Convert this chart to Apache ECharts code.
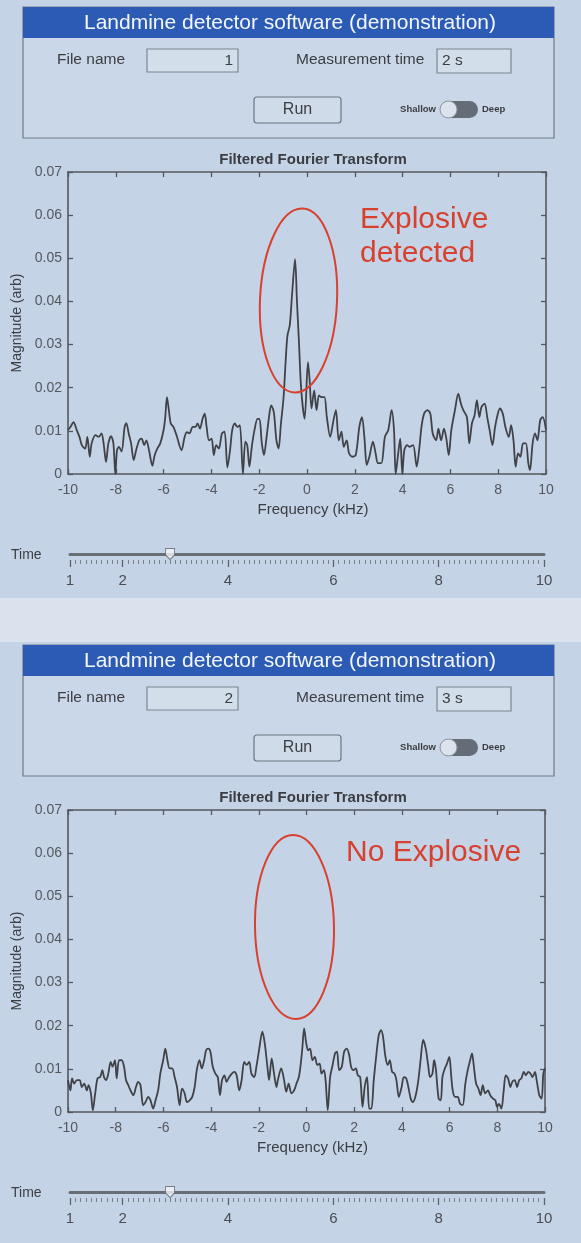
<!DOCTYPE html>
<html>
<head>
<meta charset="utf-8">
<script src="https://cdn.jsdelivr.net/npm/echarts@6/dist/echarts.min.js"></script>
<style>
html,body{margin:0;padding:0;background:#c4d3e6;}
#c{width:581px;height:1243px;}
</style>
</head>
<body>
<div id="c"></div>
<script>
// ---------------- data ----------------
const FREQ_MIN = -10, FREQ_MAX = 10, FREQ_STEP = 2;
const MAG_MIN = 0, MAG_MAX = 0.07, MAG_STEP = 0.01;

// Screen 1 : explosive detected
const freq1 = [
 -10.00,-9.90,-9.77,-9.63,-9.52,-9.42,-9.28,-9.19,-9.09,-9.01,
 -8.85,-8.71,-8.60,-8.51,-8.41,-8.31,-8.20,-8.10,-8.02,-7.95,
 -7.87,-7.76,-7.63,-7.56,-7.46,-7.36,-7.25,-7.15,-7.02,-6.92,
 -6.81,-6.72,-6.61,-6.47,-6.38,-6.27,-6.14,-6.00,-5.93,-5.86,
 -5.78,-5.70,-5.59,-5.46,-5.25,-5.12,-5.02,-4.92,-4.78,-4.67,
 -4.58,-4.48,-4.37,-4.28,-4.20,-4.10,-3.99,-3.90,-3.80,-3.69,
 -3.56,-3.45,-3.33,-3.22,-3.13,-3.02,-2.91,-2.81,-2.68,-2.58,
 -2.50,-2.41,-2.31,-2.20,-2.07,-1.99,-1.89,-1.80,-1.69,-1.59,
 -1.50,-1.39,-1.28,-1.19,-1.09,-0.98,-0.90,-0.82,-0.72,-0.62,
 -0.50,-0.42,-0.34,-0.24,-0.10,0.04,0.11,0.19,0.30,0.40,
 0.50,0.61,0.73,0.83,0.97,1.11,1.21,1.33,1.44,1.54,
 1.66,1.76,1.90,2.04,2.19,2.30,2.40,2.50,2.61,2.76,
 2.87,2.97,3.11,3.26,3.40,3.54,3.64,3.71,3.80,3.90,
 3.99,4.07,4.19,4.30,4.44,4.59,4.69,4.79,4.90,5.04,
 5.16,5.26,5.40,5.50,5.61,5.73,5.83,5.93,6.04,6.19,
 6.33,6.44,6.54,6.69,6.79,6.90,7.01,7.11,7.21,7.30,
 7.43,7.54,7.64,7.76,7.87,7.97,8.07,8.19,8.30,8.44,
 8.54,8.64,8.73,8.83,8.93,9.04,9.16,9.26,9.33,9.44,
 9.54,9.64,9.76,9.86,10.00
];
const mag1 = [
 0.0102,0.0109,0.0120,0.0101,0.0086,0.0067,0.0059,0.0086,0.0040,0.0071,
 0.0090,0.0086,0.0094,0.0071,0.0028,0.0071,0.0088,0.0071,0.0000,0.0055,
 0.0063,0.0052,0.0109,0.0118,0.0094,0.0071,0.0032,0.0055,0.0078,0.0082,
 0.0067,0.0078,0.0055,0.0019,0.0042,0.0058,0.0071,0.0102,0.0132,0.0178,
 0.0148,0.0117,0.0109,0.0090,0.0055,0.0086,0.0097,0.0094,0.0109,0.0109,
 0.0117,0.0105,0.0128,0.0140,0.0109,0.0078,0.0082,0.0044,0.0067,0.0059,
 0.0094,0.0098,0.0015,0.0055,0.0101,0.0117,0.0109,0.0113,0.0000,0.0075,
 0.0067,0.0017,0.0063,0.0101,0.0128,0.0128,0.0071,0.0044,0.0086,0.0132,
 0.0159,0.0144,0.0078,0.0059,0.0117,0.0178,0.0255,0.0320,0.0345,0.0420,
 0.0498,0.0400,0.0310,0.0194,0.0128,0.0259,0.0217,0.0152,0.0194,0.0148,
 0.0182,0.0178,0.0178,0.0132,0.0086,0.0125,0.0148,0.0078,0.0098,0.0063,
 0.0078,0.0048,0.0040,0.0044,0.0109,0.0132,0.0086,0.0021,0.0040,0.0075,
 0.0048,0.0025,0.0025,0.0086,0.0102,0.0148,0.0102,0.0000,0.0040,0.0082,
 0.0000,0.0055,0.0067,0.0063,0.0067,0.0017,0.0055,0.0109,0.0140,0.0148,
 0.0140,0.0094,0.0078,0.0105,0.0078,0.0105,0.0082,0.0044,0.0102,0.0148,
 0.0186,0.0163,0.0148,0.0132,0.0071,0.0117,0.0136,0.0171,0.0132,0.0155,
 0.0163,0.0132,0.0102,0.0067,0.0109,0.0136,0.0152,0.0140,0.0109,0.0086,
 0.0113,0.0078,0.0017,0.0048,0.0040,0.0071,0.0071,0.0025,0.0009,0.0071,
 0.0094,0.0078,0.0125,0.0132,0.0102
];

// Screen 2 : no explosive
const freq2 = [
 -10.00,-9.90,-9.83,-9.74,-9.63,-9.51,-9.42,-9.32,-9.21,-9.14,
 -9.04,-8.96,-8.86,-8.76,-8.65,-8.56,-8.49,-8.40,-8.31,-8.21,
 -8.13,-8.03,-7.96,-7.86,-7.75,-7.65,-7.57,-7.47,-7.38,-7.26,
 -7.15,-7.06,-6.96,-6.85,-6.75,-6.64,-6.54,-6.43,-6.33,-6.22,
 -6.13,-6.01,-5.92,-5.83,-5.74,-5.63,-5.53,-5.43,-5.32,-5.22,
 -5.11,-5.01,-4.90,-4.79,-4.69,-4.60,-4.49,-4.39,-4.29,-4.21,
 -4.11,-4.03,-3.93,-3.82,-3.72,-3.63,-3.54,-3.44,-3.35,-3.24,
 -3.13,-3.03,-2.93,-2.82,-2.72,-2.61,-2.51,-2.40,-2.31,-2.19,
 -2.10,-1.99,-1.85,-1.75,-1.64,-1.57,-1.46,-1.36,-1.26,-1.20,
 -1.06,-0.94,-0.85,-0.75,-0.63,-0.52,-0.42,-0.32,-0.24,-0.17,
 -0.10,-0.01,0.07,0.15,0.25,0.35,0.45,0.55,0.63,0.73,
 0.80,0.89,0.99,1.08,1.20,1.28,1.37,1.48,1.58,1.69,
 1.79,1.87,1.97,2.07,2.15,2.25,2.35,2.44,2.54,2.63,
 2.72,2.82,2.92,3.03,3.13,3.21,3.31,3.41,3.49,3.59,
 3.69,3.77,3.87,3.99,4.08,4.18,4.27,4.37,4.46,4.58,
 4.69,4.79,4.89,5.00,5.10,5.18,5.28,5.35,5.42,5.54,
 5.63,5.70,5.80,5.89,5.99,6.06,6.13,6.23,6.34,6.44,
 6.55,6.66,6.76,6.86,6.94,7.01,7.11,7.21,7.30,7.39,
 7.49,7.61,7.70,7.82,7.92,7.99,8.07,8.17,8.27,8.35,
 8.45,8.55,8.63,8.73,8.83,8.92,9.01,9.11,9.20,9.30,
 9.39,9.48,9.58,9.65,9.76,9.86,9.93,10.00
];
const mag2 = [
 0.0074,0.0050,0.0078,0.0066,0.0074,0.0074,0.0058,0.0066,0.0050,0.0062,
 0.0043,0.0004,0.0043,0.0078,0.0081,0.0097,0.0081,0.0074,0.0089,0.0116,
 0.0105,0.0120,0.0078,0.0120,0.0120,0.0105,0.0074,0.0062,0.0050,0.0039,
 0.0058,0.0070,0.0062,0.0016,0.0023,0.0035,0.0027,0.0008,0.0027,0.0050,
 0.0089,0.0120,0.0147,0.0120,0.0101,0.0101,0.0081,0.0058,0.0016,0.0054,
 0.0043,0.0023,0.0027,0.0035,0.0058,0.0097,0.0120,0.0101,0.0120,0.0143,
 0.0147,0.0140,0.0105,0.0089,0.0081,0.0039,0.0074,0.0085,0.0070,0.0081,
 0.0089,0.0093,0.0085,0.0050,0.0074,0.0116,0.0109,0.0116,0.0089,0.0081,
 0.0105,0.0143,0.0186,0.0159,0.0105,0.0074,0.0124,0.0089,0.0058,0.0074,
 0.0101,0.0074,0.0047,0.0066,0.0043,0.0050,0.0066,0.0081,0.0112,0.0151,
 0.0194,0.0159,0.0143,0.0147,0.0120,0.0128,0.0109,0.0112,0.0089,0.0097,
 0.0074,0.0004,0.0081,0.0105,0.0136,0.0140,0.0097,0.0105,0.0140,0.0147,
 0.0132,0.0105,0.0097,0.0101,0.0085,0.0081,0.0012,0.0058,0.0081,0.0008,
 0.0008,0.0074,0.0128,0.0178,0.0190,0.0174,0.0128,0.0109,0.0120,0.0093,
 0.0089,0.0074,0.0035,0.0058,0.0081,0.0078,0.0058,0.0031,0.0023,0.0039,
 0.0074,0.0124,0.0167,0.0147,0.0109,0.0081,0.0089,0.0120,0.0101,0.0031,
 0.0027,0.0081,0.0101,0.0112,0.0128,0.0089,0.0050,0.0035,0.0035,0.0019,
 0.0016,0.0066,0.0097,0.0120,0.0136,0.0109,0.0066,0.0054,0.0039,0.0062,
 0.0043,0.0050,0.0039,0.0031,0.0027,0.0012,0.0019,0.0008,0.0050,0.0085,
 0.0078,0.0058,0.0070,0.0074,0.0058,0.0074,0.0078,0.0093,0.0085,0.0093,
 0.0089,0.0081,0.0093,0.0074,0.0039,0.0031,0.0089,0.0101
];

const SLIDER_MIN = 1, SLIDER_MAX = 10, SLIDER_MINOR = 0.1;
const sliderLabels = [1, 2, 4, 6, 8, 10];
const sliderValue = 2.9;
const fileNames = ['1', '2'];
const measureTimes = ['2 s', '3 s'];
const verdicts = [['Explosive', 'detected'], ['No Explosive']];
const appTitle = 'Landmine detector software (demonstration)';
const chartTitle = 'Filtered Fourier Transform';

// ---------------- layout / style ----------------
const FONT = '"Liberation Sans", Arial, Helvetica, sans-serif';
const INK = '#3b3d42';
const AXIS = '#55585e';
const RED = '#d8402f';
const pairs = (xs, ys) => xs.map((x, i) => [x, ys[i]]);

const screens = [
  { panelTop: 7, gridTop: 172, gridW: 478, titleY: 160, sliderTop: 554,
    ellipse: { cx: 298.5, cy: 300.5, rx: 38.5, ry: 92, rot: -0.045 },
    verdictX: 360, verdictY: [205, 239] },
  { panelTop: 645, gridTop: 810, gridW: 477, titleY: 798, sliderTop: 1192,
    ellipse: { cx: 294.5, cy: 927, rx: 39.5, ry: 92, rot: 0.018 },
    verdictX: 346, verdictY: [838] }
];
const PLOT_LEFT = 68, PLOT_H = 302;

function panel(i) {
  const T = screens[i].panelTop;
  const t = (x, y, text, size, extra) => Object.assign({
    type: 'text', x, y, silent: true,
    style: Object.assign({ text, fill: INK, font: size + 'px ' + FONT,
      textAlign: 'left', textVerticalAlign: 'middle' }, extra || {})
  });
  return [
    { type: 'rect', shape: { x: 23, y: T, width: 531, height: 131 },
      style: { fill: '#cad7e8', stroke: '#6f7a88', lineWidth: 1.2 } },
    { type: 'rect', shape: { x: 23, y: T, width: 531, height: 31 },
      style: { fill: '#2c5bb5' } },
    t(290, T + 16, appTitle, 21, { fill: '#f3f6fb', textAlign: 'center' }),
    t(57, T + 53, 'File name', 15.5),
    { type: 'rect', shape: { x: 147, y: T + 42, width: 91, height: 23 },
      style: { fill: '#d3deeb', stroke: '#7c8692', lineWidth: 1.2 } },
    t(233, T + 54, fileNames[i], 15.5, { textAlign: 'right' }),
    t(296, T + 53, 'Measurement time', 15.5),
    { type: 'rect', shape: { x: 437, y: T + 42, width: 74, height: 24 },
      style: { fill: '#d3deeb', stroke: '#7c8692', lineWidth: 1.2 } },
    t(442, T + 54, measureTimes[i], 15.5),
    { type: 'rect', shape: { x: 254, y: T + 90, width: 87, height: 26, r: 3 },
      style: { fill: '#cfdbe9', stroke: '#6c7682', lineWidth: 1.2 } },
    t(297.5, T + 103, 'Run', 16, { textAlign: 'center' }),
    t(436, T + 102, 'Shallow', 9.5, { textAlign: 'right', font: 'bold 9.5px ' + FONT }),
    { type: 'rect', shape: { x: 440, y: T + 94, width: 38, height: 17, r: 8.5 },
      style: { fill: '#646c78' } },
    { type: 'circle', shape: { cx: 448.5, cy: T + 102.5, r: 8.5 },
      style: { fill: '#dde3ec', stroke: '#8b95a2', lineWidth: 1 } },
    t(482, T + 102, 'Deep', 9.5, { font: 'bold 9.5px ' + FONT })
  ];
}

function annotations(i) {
  const s = screens[i];
  const els = [
    { type: 'text', x: 313, y: s.titleY, silent: true,
      style: { text: chartTitle, fill: INK, font: 'bold 15px ' + FONT,
        textAlign: 'center', textVerticalAlign: 'middle' } },
    { type: 'ellipse', x: s.ellipse.cx, y: s.ellipse.cy, rotation: s.ellipse.rot, z: 20,
      shape: { cx: 0, cy: 0, rx: s.ellipse.rx, ry: s.ellipse.ry },
      style: { fill: 'none', stroke: RED, lineWidth: 2 } },
    { type: 'text', x: 11, y: s.sliderTop + 1, silent: true,
      style: { text: 'Time', fill: INK, font: '14px ' + FONT,
        textAlign: 'left', textVerticalAlign: 'middle' } }
  ];
  verdicts[i].forEach((line, k) => els.push({
    type: 'text', x: s.verdictX, y: s.verdictY[k], z: 20, silent: true,
    style: { text: line, fill: RED, font: '30px ' + FONT,
      textAlign: 'left', textVerticalAlign: 'top' }
  }));
  return els;
}

const grid = [], xAxis = [], yAxis = [], series = [];
screens.forEach((s, i) => {
  const g = grid.length;
  grid.push({ left: PLOT_LEFT, top: s.gridTop, width: s.gridW, height: PLOT_H,
    containLabel: false, outerBoundsMode: 'none' });
  const xBase = {
    gridIndex: g, type: 'value', min: FREQ_MIN, max: FREQ_MAX, interval: FREQ_STEP,
    axisLine: { onZero: false, lineStyle: { color: AXIS, width: 1.6 } },
    axisTick: { inside: true, length: 5, lineStyle: { color: AXIS, width: 1.3 } },
    splitLine: { show: false }
  };
  const xi = xAxis.length;
  xAxis.push(Object.assign({}, xBase, {
    position: 'bottom', name: 'Frequency (kHz)', nameLocation: 'middle', nameGap: 28,
    nameTextStyle: { fontSize: 15, color: INK, fontFamily: FONT, padding: [0, 0, 0, 12] },
    axisLabel: { fontSize: 14, color: '#55585e', fontFamily: FONT, margin: 9 }
  }));
  xAxis.push(Object.assign({}, xBase, { position: 'top', axisLabel: { show: false } }));
  const yBase = {
    gridIndex: g, type: 'value', min: MAG_MIN, max: MAG_MAX, interval: MAG_STEP,
    axisLine: { show: true, onZero: false, lineStyle: { color: AXIS, width: 1.6 } },
    axisTick: { show: true, inside: true, length: 5, lineStyle: { color: AXIS, width: 1.3 } },
    splitLine: { show: false }
  };
  const yi = yAxis.length;
  yAxis.push(Object.assign({}, yBase, {
    position: 'left', name: 'Magnitude (arb)', nameLocation: 'middle', nameGap: 44,
    nameTextStyle: { fontSize: 14, color: INK, fontFamily: FONT },
    axisLabel: { fontSize: 14, color: '#55585e', fontFamily: FONT, margin: 6 }
  }));
  yAxis.push(Object.assign({}, yBase, { position: 'right', axisLabel: { show: false } }));
  series.push({
    type: 'line', xAxisIndex: xi, yAxisIndex: yi,
    data: pairs(i === 0 ? freq1 : freq2, i === 0 ? mag1 : mag2),
    showSymbol: false, smooth: 0.3, clip: true,
    lineStyle: { color: '#404247', width: 1.8 }
  });
});

screens.forEach((s, i) => {
  const g = grid.length;
  grid.push({ left: 70, width: 474, top: s.sliderTop, height: 6,
    containLabel: false, outerBoundsMode: 'none' });
  const base = { gridIndex: g, type: 'value', min: SLIDER_MIN, max: SLIDER_MAX,
    splitLine: { show: false } };
  const trackIdx = xAxis.length;
  xAxis.push(Object.assign({}, base, { position: 'top',
    axisLine: { onZero: false, lineStyle: { color: '#686d76', width: 3 } },
    axisTick: { show: false }, axisLabel: { show: false } }));
  xAxis.push(Object.assign({}, base, { position: 'bottom', interval: SLIDER_MINOR,
    axisLine: { show: false, onZero: false },
    axisTick: { show: true, length: 4, lineStyle: { color: '#7a7f88', width: 1 } },
    axisLabel: { show: false } }));
  xAxis.push(Object.assign({}, base, { position: 'bottom',
    axisLine: { show: false, onZero: false },
    axisTick: { show: true, length: 7, customValues: sliderLabels,
      lineStyle: { color: '#60656d', width: 1.3 } },
    axisLabel: { customValues: sliderLabels, fontSize: 15, color: '#4a4c51',
      fontFamily: FONT, margin: 13 } }));
  const yi = yAxis.length;
  yAxis.push({ gridIndex: g, type: 'value', min: 0, max: 1, show: false });
  series.push({
    type: 'scatter', xAxisIndex: trackIdx, yAxisIndex: yi, z: 5,
    data: [[sliderValue, 1]],
    symbol: 'path://M0,0 L10,0 L10,7 L5,12 L0,7 Z', symbolSize: [9, 11],
    itemStyle: { color: '#f3f5f8', borderColor: '#5f646c', borderWidth: 1 },
    silent: true
  });
});

const graphic = [
  { type: 'rect', shape: { x: 0, y: 598, width: 581, height: 44 },
    style: { fill: '#d9e2ed' }, z: -10, silent: true }
].concat(panel(0), panel(1), annotations(0), annotations(1));

const chart = echarts.init(document.getElementById('c'), null, { renderer: 'canvas' });
chart.setOption({
  animation: false,
  backgroundColor: '#c4d3e6',
  textStyle: { fontFamily: FONT },
  grid, xAxis, yAxis, series, graphic
});
</script>
</body>
</html>
